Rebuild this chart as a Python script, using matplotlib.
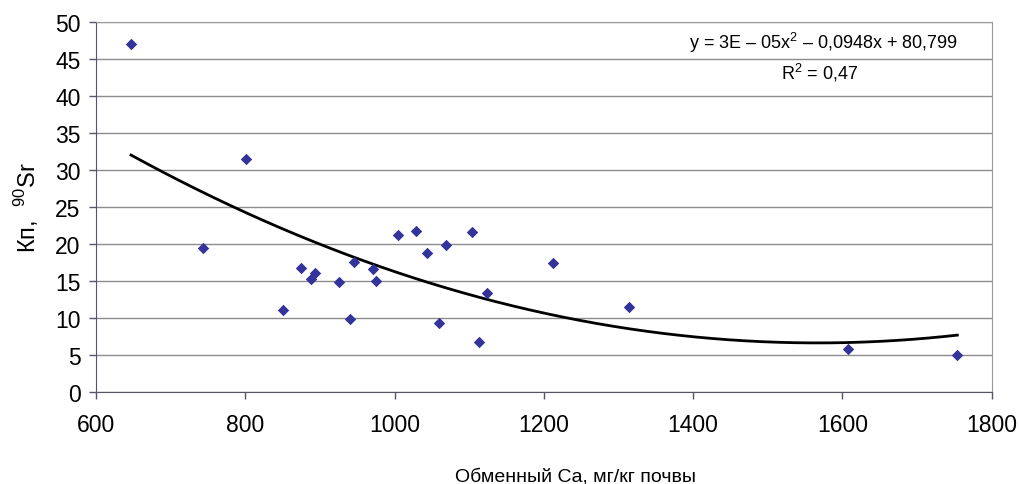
import numpy as np
import matplotlib
import matplotlib.pyplot as plt

matplotlib.use("Agg")

plt.rcParams["font.family"] = ["Liberation Sans", "DejaVu Sans"]
plt.rcParams["mathtext.fontset"] = "custom"
plt.rcParams["mathtext.rm"] = "Liberation Sans"

# exchangeable Ca (mg/kg soil) vs Kp 90Sr
ca = [647, 743, 801, 850, 874, 888, 894, 926, 940, 945, 971, 975,
      1004, 1029, 1043, 1060, 1069, 1104, 1113, 1124, 1212, 1314, 1608, 1754]
kp = [47.0, 19.5, 31.4, 11.0, 16.7, 15.3, 16.0, 14.8, 9.8, 17.6, 16.6, 15.0,
      21.2, 21.8, 18.7, 9.3, 19.9, 21.6, 6.7, 13.3, 17.4, 11.5, 5.8, 5.0]

x_ticks = [600, 800, 1000, 1200, 1400, 1600, 1800]
y_ticks = [0, 5, 10, 15, 20, 25, 30, 35, 40, 45, 50]

eq_text = r"y = 3E – 05x$^{\mathregular{2}}$ – 0,0948x + 80,799"
r2_text = r"R$^{\mathregular{2}}$ = 0,47"

fig = plt.figure(figsize=(10.19, 4.85), dpi=100)
ax = fig.add_axes([0.0942, 0.190, 0.879, 0.763])

# second order polynomial trend through the points
coef = np.polyfit(ca, kp, 2)
xs = np.linspace(min(ca), max(ca), 200)
ax.plot(xs, np.polyval(coef, xs), color="black", lw=2, zorder=3)

ax.scatter(ca, kp, marker="D", s=34, color="#333399", zorder=4, linewidths=0)

ax.set_xlim(600, 1800)
ax.set_ylim(0, 50)
ax.set_xticks(x_ticks)
ax.set_yticks(y_ticks)
ax.yaxis.grid(True, color="#8c8c8c", lw=1)
ax.set_axisbelow(True)

for side in ["top", "right"]:
    ax.spines[side].set_color("#9a9a9a")
for side in ["left", "bottom"]:
    ax.spines[side].set_color("#555566")
ax.tick_params(axis="both", direction="out", length=5, width=1,
               color="#555566", labelsize=16.5, pad=6)
ax.tick_params(axis="x", pad=10)

ax.set_xlabel("Обменный Ca, мг/кг почвы", fontsize=14, labelpad=22)
ax.xaxis.set_label_coords(0.535, -0.205)
ax.set_ylabel(r"Кп,  $^{\mathregular{90}}$Sr", fontsize=17, labelpad=10)

ax.text(0.963, 0.945, eq_text, transform=ax.transAxes, ha="right",
        va="center", fontsize=13)
ax.text(0.808, 0.865, r2_text, transform=ax.transAxes, ha="center",
        va="center", fontsize=13)

fig.savefig("out.png", dpi=100)
plt.close(fig)
